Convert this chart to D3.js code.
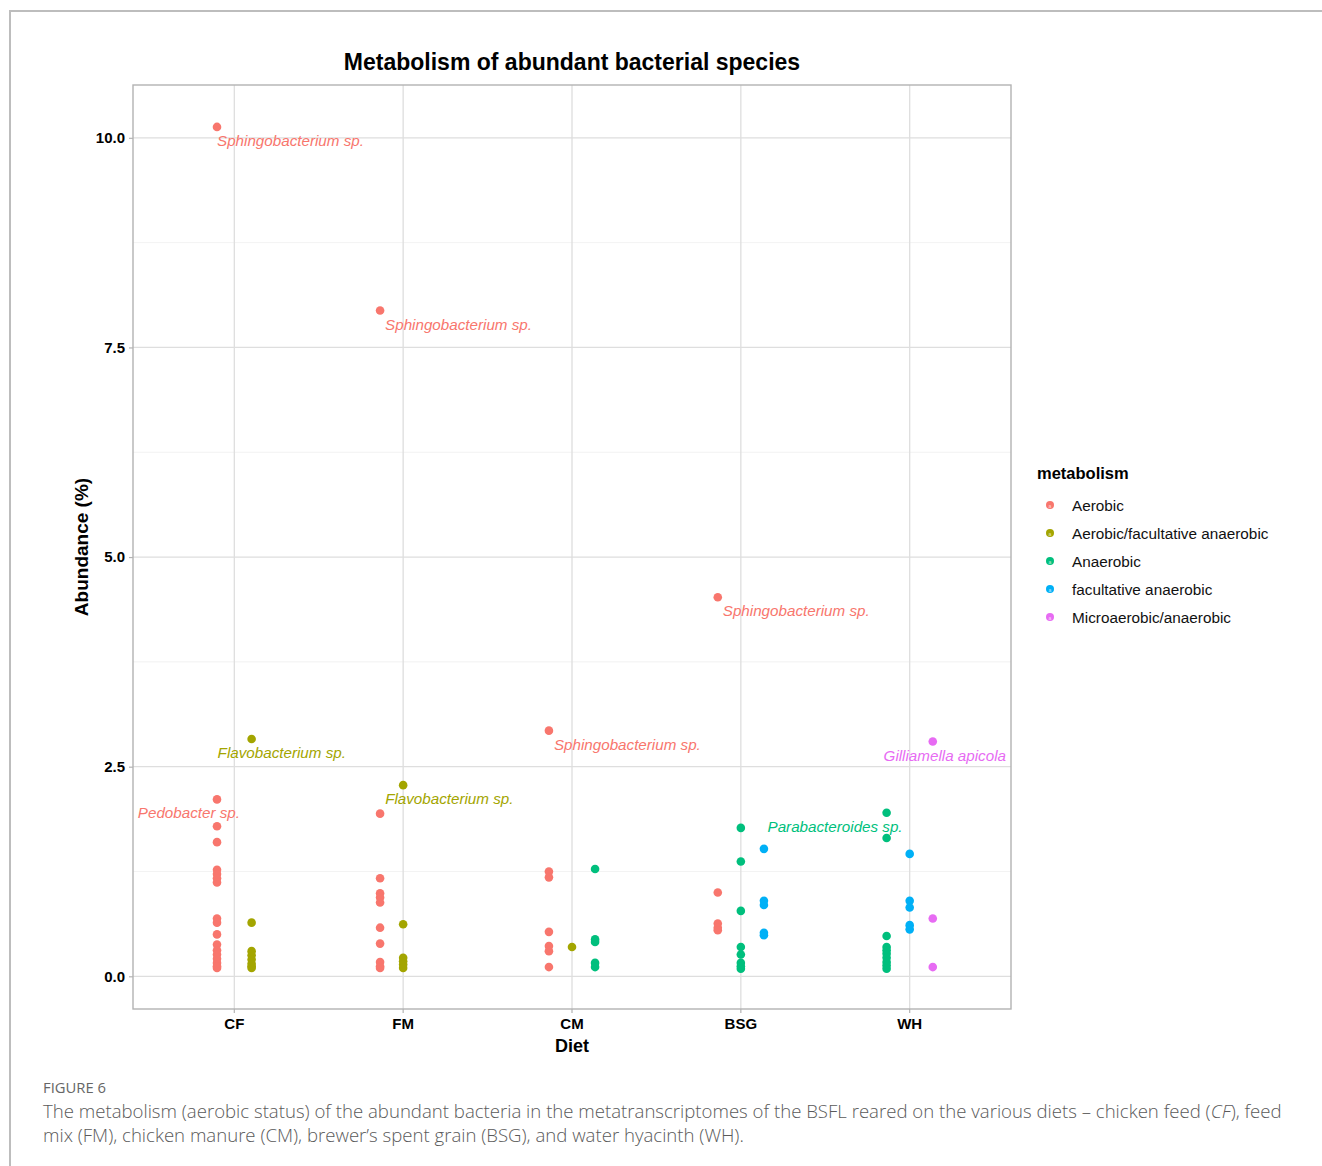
<!DOCTYPE html>
<html lang="en">
<head>
<meta charset="utf-8">
<title>Metabolism of abundant bacterial species</title>
<script src="https://d3js.org/d3.v7.min.js"></script>
<style>
  body { margin: 0; background: #fff; }
  text { font-family: "Liberation Sans", Arial, sans-serif; }
  .caption { font-family: "Open Sans", "Noto Sans", sans-serif; }
</style>
</head>
<body>
<div id="chart"></div>
<script>
// diets on the x axis
var diets = ["CF", "FM", "CM", "BSG", "WH"];
var groups = ["Aerobic", "Aerobic/facultative anaerobic", "Anaerobic",
              "facultative anaerobic", "Microaerobic/anaerobic"];
var colors = ["#F8766D", "#A3A500", "#00BF7D", "#00B0F6", "#E76BF3"];
var yTicks = [0, 2.5, 5, 7.5, 10];

// dodge slots used at each diet (ggplot position_dodge)
var dodgeSlots = {
  CF:  ["Aerobic", "Aerobic/facultative anaerobic"],
  FM:  ["Aerobic", "Aerobic/facultative anaerobic", "-"],
  CM:  ["Aerobic", "Aerobic/facultative anaerobic", "Anaerobic"],
  BSG: ["Aerobic", "Anaerobic", "facultative anaerobic"],
  WH:  ["Anaerobic", "facultative anaerobic", "Microaerobic/anaerobic"]
};

// abundance values (%) per diet and metabolism
var cfAerobic = [10.13, 2.11, 1.79, 1.60, 1.27, 1.22, 1.17, 1.12, 0.69, 0.64, 0.50, 0.38, 0.31, 0.26, 0.21, 0.16, 0.12, 0.10];
var cfAeroFac = [2.83, 0.64, 0.30, 0.25, 0.20, 0.15, 0.12, 0.10];
var fmAerobic = [7.94, 1.94, 1.17, 0.99, 0.94, 0.88, 0.58, 0.39, 0.17, 0.12, 0.10];
var fmAeroFac = [2.28, 0.62, 0.22, 0.18, 0.14, 0.10];
var cmAerobic = [2.93, 1.25, 1.18, 0.53, 0.36, 0.30, 0.11];
var cmAeroFac = [0.35];
var cmAnaerobic = [1.28, 0.44, 0.41, 0.16, 0.11];
var bsgAerobic = [4.52, 1.00, 0.63, 0.58, 0.55];
var bsgAnaerobic = [1.77, 1.37, 0.78, 0.35, 0.26, 0.16, 0.12, 0.09];
var bsgFacAn = [1.52, 0.90, 0.85, 0.52, 0.49];
var whAnaerobic = [1.95, 1.65, 0.48, 0.35, 0.31, 0.27, 0.22, 0.17, 0.13, 0.09];
var whFacAn = [1.46, 0.90, 0.82, 0.61, 0.56];
var whMicro = [2.80, 0.69, 0.11];

var series = [
  ["CF", "Aerobic", cfAerobic],
  ["CF", "Aerobic/facultative anaerobic", cfAeroFac],
  ["FM", "Aerobic", fmAerobic],
  ["FM", "Aerobic/facultative anaerobic", fmAeroFac],
  ["CM", "Aerobic", cmAerobic],
  ["CM", "Aerobic/facultative anaerobic", cmAeroFac],
  ["CM", "Anaerobic", cmAnaerobic],
  ["BSG", "Aerobic", bsgAerobic],
  ["BSG", "Anaerobic", bsgAnaerobic],
  ["BSG", "facultative anaerobic", bsgFacAn],
  ["WH", "Anaerobic", whAnaerobic],
  ["WH", "facultative anaerobic", whFacAn],
  ["WH", "Microaerobic/anaerobic", whMicro]
];

// species labels: which point they name
var labelNames = ["Sphingobacterium sp.", "Sphingobacterium sp.", "Sphingobacterium sp.", "Sphingobacterium sp.",
                  "Flavobacterium sp.", "Flavobacterium sp.", "Pedobacter sp.", "Parabacteroides sp.", "Gilliamella apicola"];
var labelDiet = ["CF", "FM", "CM", "BSG", "CF", "FM", "CF", "WH", "WH"];
var labelGroup = ["Aerobic", "Aerobic", "Aerobic", "Aerobic",
                  "Aerobic/facultative anaerobic", "Aerobic/facultative anaerobic",
                  "Aerobic", "Anaerobic", "Microaerobic/anaerobic"];
var labelValue = [10.13, 7.94, 2.93, 4.52, 2.83, 2.28, 2.11, 1.95, 2.80];
// repel placement of each label relative to its point (px)
var labelNudge = [[0, 19, "start"], [5, 19, "start"], [5, 19, "start"], [5, 19, "start"],
                  [-34, 19, "start"], [-18, 19, "start"], [23, 19, "end"], [16, 19, "end"], [12, 19, "middle"]];

var W = 1322, H = 1166;
var margin = {left: 133, top: 85, right: 1011, bottom: 1009};

var svg = d3.select("#chart").append("svg")
  .attr("width", W).attr("height", H);

// outer figure frame (top + left visible)
svg.append("path")
  .attr("d", "M10," + H + " L10,11 L" + W + ",11")
  .attr("fill", "none").attr("stroke", "#bdbdbd").attr("stroke-width", 2);

var x = d3.scaleBand().domain(diets)
  .range([margin.left, margin.right]).paddingInner(0).paddingOuter(0.1);
// band centers
var xc = function(d) { return x(d) + x.bandwidth() / 2; };
var y = d3.scaleLinear().domain([-0.39, 10.63]).range([margin.bottom, margin.top]);
var color = d3.scaleOrdinal().domain(groups).range(colors);
var dodgeW = 0.41 * x.bandwidth();

function dodgeX(diet, group) {
  var slots = dodgeSlots[diet];
  var s = d3.scaleBand().domain(d3.range(slots.length)).range([-dodgeW / 2, dodgeW / 2]);
  var i = slots.indexOf(group);
  return xc(diet) + s(i) + s.bandwidth() / 2;
}

var plot = svg.append("g");

// minor grid
var minor = [1.25, 3.75, 6.25, 8.75];
plot.selectAll(".minor").data(minor).enter().append("line")
  .attr("x1", margin.left).attr("x2", margin.right)
  .attr("y1", function(d) { return y(d); }).attr("y2", function(d) { return y(d); })
  .attr("stroke", "#ececec").attr("stroke-width", 0.7);
// major grid
plot.selectAll(".majorY").data(yTicks).enter().append("line")
  .attr("x1", margin.left).attr("x2", margin.right)
  .attr("y1", function(d) { return y(d); }).attr("y2", function(d) { return y(d); })
  .attr("stroke", "#dedede").attr("stroke-width", 1.3);
plot.selectAll(".majorX").data(diets).enter().append("line")
  .attr("y1", margin.top).attr("y2", margin.bottom)
  .attr("x1", function(d) { return xc(d); }).attr("x2", function(d) { return xc(d); })
  .attr("stroke", "#dedede").attr("stroke-width", 1.3);

// axes
var yAxis = svg.append("g").attr("transform", "translate(" + margin.left + ",0)")
  .call(d3.axisLeft(y).tickValues(yTicks).tickFormat(d3.format(".1f")).tickSize(4).tickPadding(4));
var xAxis = svg.append("g").attr("transform", "translate(0," + margin.bottom + ")")
  .call(d3.axisBottom(x).tickSize(4).tickPadding(5));
[yAxis, xAxis].forEach(function(a) {
  a.select(".domain").remove();
  a.selectAll("line").attr("stroke", "#b3b3b3").attr("stroke-width", 1.2);
  a.selectAll("text").attr("fill", "#000").style("font-size", "15px").style("font-weight", "bold");
});

// panel border
svg.append("rect")
  .attr("x", margin.left).attr("y", margin.top)
  .attr("width", margin.right - margin.left).attr("height", margin.bottom - margin.top)
  .attr("fill", "none").attr("stroke", "#b3b3b3").attr("stroke-width", 1.4);

// points
var points = [];
series.forEach(function(s) {
  s[2].forEach(function(v) { points.push({diet: s[0], group: s[1], value: v}); });
});
plot.selectAll(".dot").data(points).enter().append("circle")
  .attr("cx", function(d) { return dodgeX(d.diet, d.group); })
  .attr("cy", function(d) { return y(d.value); })
  .attr("r", 4.3)
  .attr("fill", function(d) { return color(d.group); });

// species labels
labelNames.forEach(function(name, i) {
  var px = dodgeX(labelDiet[i], labelGroup[i]), py = y(labelValue[i]);
  svg.append("text")
    .attr("x", px + labelNudge[i][0]).attr("y", py + labelNudge[i][1])
    .attr("text-anchor", labelNudge[i][2])
    .style("font-size", "15.2px").style("font-style", "italic")
    .attr("fill", color(labelGroup[i]))
    .text(name);
});

// title and axis titles
svg.append("text").attr("x", (margin.left + margin.right) / 2).attr("y", 70)
  .attr("text-anchor", "middle").style("font-size", "23px").style("font-weight", "bold")
  .text("Metabolism of abundant bacterial species");
svg.append("text").attr("x", (margin.left + margin.right) / 2).attr("y", 1052)
  .attr("text-anchor", "middle").style("font-size", "18px").style("font-weight", "bold")
  .text("Diet");
svg.append("text")
  .attr("transform", "translate(88," + ((margin.top + margin.bottom) / 2) + ") rotate(-90)")
  .attr("text-anchor", "middle").style("font-size", "19px").style("font-weight", "bold")
  .text("Abundance (%)");

// legend
var legend = svg.append("g").attr("transform", "translate(1037,0)");
legend.append("text").attr("x", 0).attr("y", 479)
  .style("font-size", "16.5px").style("font-weight", "bold").text("metabolism");
var item = legend.selectAll(".item").data(groups).enter().append("g")
  .attr("transform", function(d, i) { return "translate(0," + (505 + i * 28) + ")"; });
item.append("circle").attr("cx", 13).attr("cy", 0).attr("r", 4)
  .attr("fill", function(d) { return color(d); });
item.append("text").attr("x", 13).attr("y", 2.5).attr("text-anchor", "middle")
  .style("font-size", "5px").attr("fill", "#fff").attr("opacity", 0.7).text("a");
item.append("text").attr("x", 35).attr("y", 5.5)
  .style("font-size", "15.3px").attr("fill", "#111").text(function(d) { return d; });

// caption
svg.append("text").attr("class", "caption").attr("x", 43).attr("y", 1093)
  .style("font-size", "14.8px").attr("fill", "#666").text("FIGURE 6");
var cap1 = svg.append("text").attr("class", "caption").attr("x", 43).attr("y", 1118)
  .style("font-size", "18.6px").style("font-weight", "300").attr("fill", "#5a5a5a");
cap1.append("tspan").text("The metabolism (aerobic status) of the abundant bacteria in the metatranscriptomes of the BSFL reared on the various diets \u2013 chicken feed (");
cap1.append("tspan").style("font-style", "italic").text("CF");
cap1.append("tspan").text("), feed");
svg.append("text").attr("class", "caption").attr("x", 43).attr("y", 1142)
  .style("font-size", "18.6px").style("font-weight", "300").attr("fill", "#5a5a5a")
  .text("mix (FM), chicken manure (CM), brewer\u2019s spent grain (BSG), and water hyacinth (WH).");
</script>
</body>
</html>
